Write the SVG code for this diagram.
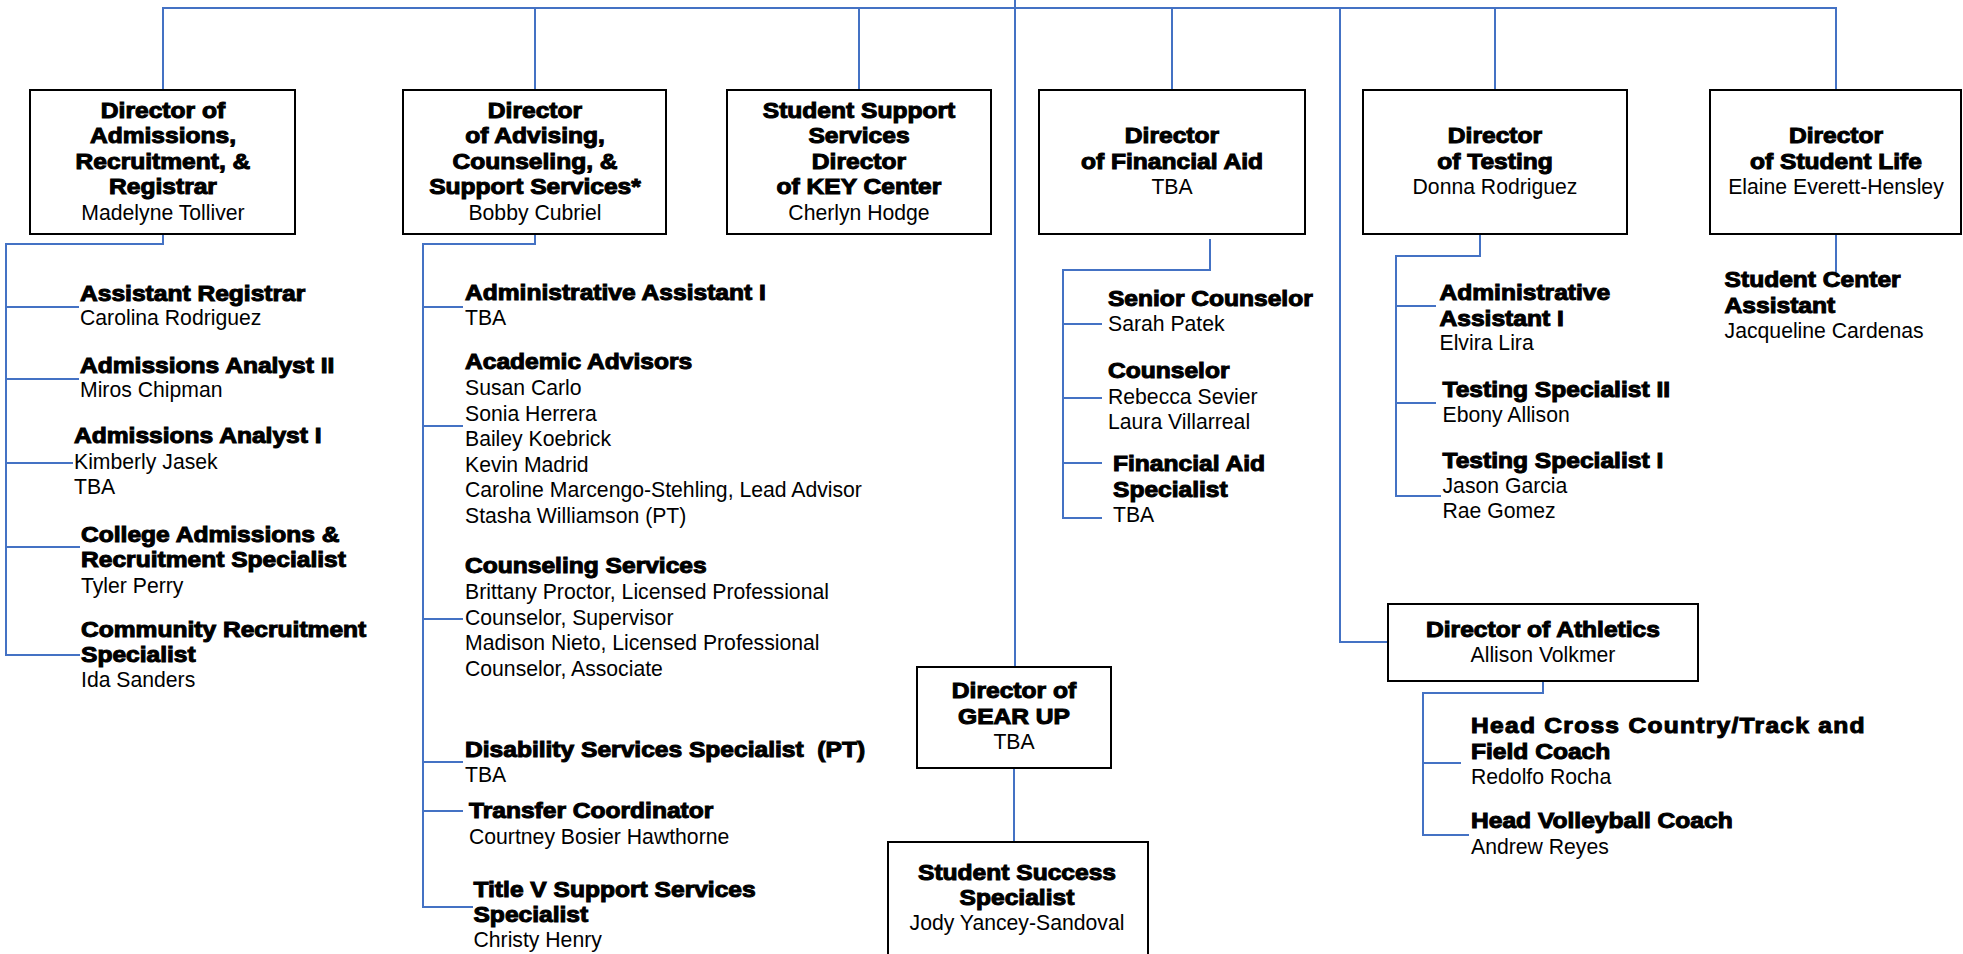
<svg xmlns="http://www.w3.org/2000/svg" width="1963" height="954" viewBox="0 0 1963 954">
<style>
.ln{fill:none;stroke:#4472C4;stroke-width:2}
.bx{fill:#fff;stroke:#000;stroke-width:2}
.t{font-family:"Liberation Sans",Arial,sans-serif;font-size:21.2px;fill:#000}
.c{text-anchor:middle}
.b{font-weight:bold;stroke:#000;stroke-width:1;transform-box:fill-box;transform-origin:left center;transform:scaleX(1.16)}
.bc{font-weight:bold;stroke:#000;stroke-width:1;text-anchor:middle;transform-box:fill-box;transform-origin:center;transform:scaleX(1.16)}
</style>
<rect width="1963" height="954" fill="#fff"/>
<g id="connectors">
<path class="ln" d="M163 90V8H1836V90"/>
<path class="ln" d="M535 8V90M859 8V90M1172 8V90M1495 8V90"/>
<path class="ln" d="M1015 0V667"/>
<path class="ln" d="M1340 8V642H1388"/>
<path class="ln" d="M1014 768V842"/>
<path class="ln" d="M163 234V244H6V655H80M6 307H79M6 379H79M6 463H73M6 547H80"/>
<path class="ln" d="M535 234V244H423V907H473M423 307H463M423 426H463M423 619H463M423 762H463M423 811H463"/>
<path class="ln" d="M1210 239V270H1063V518H1102M1063 324H1102M1063 398H1102M1063 463H1102"/>
<path class="ln" d="M1480 234V256H1396V496H1441M1396 306H1436M1396 403H1436"/>
<path class="ln" d="M1836 234V272"/>
<path class="ln" d="M1543 681V693H1423V835H1469M1423 763H1461"/>
</g>
<g id="dir-admissions">
<rect class="bx" x="30" y="90" width="265" height="144"/>
<text class="t bc" x="163" y="118">Director of</text>
<text class="t bc" x="163" y="143.5">Admissions,</text>
<text class="t bc" x="163" y="169">Recruitment, &amp;</text>
<text class="t bc" x="163" y="194.5">Registrar</text>
<text class="t c" x="163" y="220">Madelyne Tolliver</text>
</g>
<g id="dir-advising">
<rect class="bx" x="403" y="90" width="263" height="144"/>
<text class="t bc" x="535" y="118">Director</text>
<text class="t bc" x="535" y="143.5">of Advising,</text>
<text class="t bc" x="535" y="169">Counseling, &amp;</text>
<text class="t bc" x="535" y="194.5">Support Services*</text>
<text class="t c" x="535" y="220">Bobby Cubriel</text>
</g>
<g id="dir-key">
<rect class="bx" x="727" y="90" width="264" height="144"/>
<text class="t bc" x="859" y="118">Student Support</text>
<text class="t bc" x="859" y="143.5">Services</text>
<text class="t bc" x="859" y="169">Director</text>
<text class="t bc" x="859" y="194.5">of KEY Center</text>
<text class="t c" x="859" y="220">Cherlyn Hodge</text>
</g>
<g id="dir-finaid">
<rect class="bx" x="1039" y="90" width="266" height="144"/>
<text class="t bc" x="1172" y="143">Director</text>
<text class="t bc" x="1172" y="169">of Financial Aid</text>
<text class="t c" x="1172" y="194">TBA</text>
</g>
<g id="dir-testing">
<rect class="bx" x="1363" y="90" width="264" height="144"/>
<text class="t bc" x="1495" y="143">Director</text>
<text class="t bc" x="1495" y="169">of Testing</text>
<text class="t c" x="1495" y="194">Donna Rodriguez</text>
</g>
<g id="dir-studentlife">
<rect class="bx" x="1710" y="90" width="251" height="144"/>
<text class="t bc" x="1836" y="143">Director</text>
<text class="t bc" x="1836" y="169">of Student Life</text>
<text class="t c" x="1836" y="194">Elaine Everett-Hensley</text>
</g>
<g id="dir-athletics">
<rect class="bx" x="1388" y="604" width="310" height="77"/>
<text class="t bc" x="1543" y="637">Director of Athletics</text>
<text class="t c" x="1543" y="662">Allison Volkmer</text>
</g>
<g id="dir-gearup">
<rect class="bx" x="917" y="667" width="194" height="101"/>
<text class="t bc" x="1014" y="698">Director of</text>
<text class="t bc" x="1014" y="724">GEAR UP</text>
<text class="t c" x="1014" y="749">TBA</text>
</g>
<g id="student-success">
<rect class="bx" x="888" y="842" width="260" height="130"/>
<text class="t bc" x="1017" y="880">Student Success</text>
<text class="t bc" x="1017" y="905">Specialist</text>
<text class="t c" x="1017" y="930">Jody Yancey-Sandoval</text>
</g>
<g id="asst-registrar">
<text class="t b" x="80" y="300.7">Assistant Registrar</text>
<text class="t" x="80" y="325">Carolina Rodriguez</text>
</g>
<g id="adm-analyst-2">
<text class="t b" x="80" y="372.7">Admissions Analyst II</text>
<text class="t" x="80" y="396.7">Miros Chipman</text>
</g>
<g id="adm-analyst-1">
<text class="t b" x="74" y="443.3">Admissions Analyst I</text>
<text class="t" x="74" y="469">Kimberly Jasek</text>
<text class="t" x="74" y="494.3">TBA</text>
</g>
<g id="college-adm">
<text class="t b" x="81" y="541.7">College Admissions &amp;</text>
<text class="t b" x="81" y="566.7">Recruitment Specialist</text>
<text class="t" x="81" y="592.7">Tyler Perry</text>
</g>
<g id="community-rec">
<text class="t b" x="81" y="636.7">Community Recruitment</text>
<text class="t b" x="81" y="662.3">Specialist</text>
<text class="t" x="81" y="687.3">Ida Sanders</text>
</g>
<g id="adv-admin">
<text class="t b" x="465" y="300">Administrative Assistant I</text>
<text class="t" x="465" y="325">TBA</text>
</g>
<g id="academic-advisors">
<text class="t b" x="465" y="369.3">Academic Advisors</text>
<text class="t" x="465" y="395">Susan Carlo</text>
<text class="t" x="465" y="420.5">Sonia Herrera</text>
<text class="t" x="465" y="446">Bailey Koebrick</text>
<text class="t" x="465" y="471.5">Kevin Madrid</text>
<text class="t" x="465" y="497">Caroline Marcengo-Stehling, Lead Advisor</text>
<text class="t" x="465" y="522.5">Stasha Williamson (PT)</text>
</g>
<g id="counseling">
<text class="t b" x="465" y="573.3">Counseling Services</text>
<text class="t" x="465" y="599.3">Brittany Proctor, Licensed Professional</text>
<text class="t" x="465" y="625">Counselor, Supervisor</text>
<text class="t" x="465" y="650.3">Madison Nieto, Licensed Professional</text>
<text class="t" x="465" y="675.7">Counselor, Associate</text>
</g>
<g id="disability">
<text class="t b" x="465" y="756.7" xml:space="preserve">Disability Services Specialist  (PT)</text>
<text class="t" x="465" y="781.7">TBA</text>
</g>
<g id="transfer">
<text class="t b" x="469" y="818.3">Transfer Coordinator</text>
<text class="t" x="469" y="844.3">Courtney Bosier Hawthorne</text>
</g>
<g id="title-v">
<text class="t b" x="473.5" y="896.7">Title V Support Services</text>
<text class="t b" x="473.5" y="922.3">Specialist</text>
<text class="t" x="473.5" y="947.3">Christy Henry</text>
</g>
<g id="senior-counselor">
<text class="t b" x="1108" y="306">Senior Counselor</text>
<text class="t" x="1108" y="331">Sarah Patek</text>
</g>
<g id="fa-counselor">
<text class="t b" x="1108" y="378.3">Counselor</text>
<text class="t" x="1108" y="404">Rebecca Sevier</text>
<text class="t" x="1108" y="429.3">Laura Villarreal</text>
</g>
<g id="fa-specialist">
<text class="t b" x="1113" y="471.3">Financial Aid</text>
<text class="t b" x="1113" y="496.7">Specialist</text>
<text class="t" x="1113" y="522">TBA</text>
</g>
<g id="test-admin">
<text class="t b" x="1439.5" y="300">Administrative</text>
<text class="t b" x="1439.5" y="326">Assistant I</text>
<text class="t" x="1439.5" y="350">Elvira Lira</text>
</g>
<g id="testing-2">
<text class="t b" x="1442.5" y="396.7">Testing Specialist II</text>
<text class="t" x="1442.5" y="421.7">Ebony Allison</text>
</g>
<g id="testing-1">
<text class="t b" x="1442.5" y="467.7">Testing Specialist I</text>
<text class="t" x="1442.5" y="493.3">Jason Garcia</text>
<text class="t" x="1442.5" y="518.3">Rae Gomez</text>
</g>
<g id="student-center">
<text class="t b" x="1724.6" y="287">Student Center</text>
<text class="t b" x="1724.6" y="313">Assistant</text>
<text class="t" x="1724.6" y="338">Jacqueline Cardenas</text>
</g>
<g id="cross-country">
<text class="t b" x="1471" y="733.3" letter-spacing="1.1">Head Cross Country/Track and</text>
<text class="t b" x="1471" y="759">Field Coach</text>
<text class="t" x="1471" y="784">Redolfo Rocha</text>
</g>
<g id="volleyball">
<text class="t b" x="1471" y="828.3">Head Volleyball Coach</text>
<text class="t" x="1471" y="854">Andrew Reyes</text>
</g>
</svg>
